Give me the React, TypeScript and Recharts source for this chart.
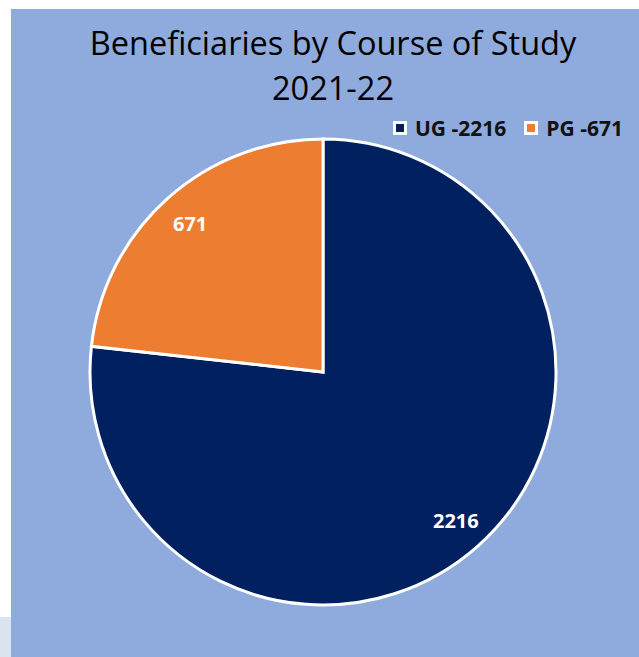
import React from "react";
import { PieChart, Pie, Cell, Legend } from "recharts";

const categories = ["UG", "PG"];
const values = [2216, 671];
const legendLabels = ["UG -2216", "PG -671"];
const colors = ["#002060", "#ED7D31"];
const titleLines = ["Beneficiaries by Course of Study", "2021-22"];

const data = categories.map((c, i) => ({ name: c, value: values[i], label: legendLabels[i] }));

const RAD = Math.PI / 180;

const renderLabel = (props: any) => {
  const { cx, cy, midAngle, outerRadius, value } = props;
  const r = outerRadius * 0.855;
  const x = cx + r * Math.cos(-midAngle * RAD);
  const y = cy + r * Math.sin(-midAngle * RAD);
  return (
    <text
      x={x}
      y={y}
      fill="#ffffff"
      textAnchor="middle"
      dominantBaseline="central"
      fontFamily="'Open Sans', sans-serif"
      fontWeight={700}
      fontSize={20}
    >
      {value}
    </text>
  );
};

const renderLegend = () => (
  <div style={{ display: "flex", fontFamily: "'Open Sans', sans-serif", fontWeight: 700, fontSize: 21, lineHeight: "26px", color: "#111", whiteSpace: "nowrap" }}>
    {data.map((d, i) => (
      <div key={d.name} style={{ display: "flex", alignItems: "center", marginRight: i === 0 ? 18 : 0 }}>
        <div style={{ width: 8, height: 8, background: colors[i], border: "3px solid #fff", marginRight: 8 }} />
        <span>{d.label}</span>
      </div>
    ))}
  </div>
);

export default function App() {
  return (
    <div style={{ position: "absolute", left: 0, top: 0, width: 639, height: 657, background: "#ffffff", overflow: "hidden" }}>
      <div style={{ position: "absolute", left: 0, top: 617, width: 12, height: 40, background: "#dae3f0" }} />
      <div style={{ position: "absolute", left: 11, top: 9, width: 628, height: 648, background: "#8FAADC" }} />
      <div style={{ position: "absolute", left: 11, top: 20, width: 644, textAlign: "center", fontFamily: "'Open Sans', sans-serif", fontSize: 32.5, lineHeight: "45px", color: "#000" }}>
        {titleLines.map((t) => (
          <div key={t}>{t}</div>
        ))}
      </div>
      <div style={{ position: "absolute", left: 0, top: 0 }}>
        <PieChart width={639} height={657} margin={{ top: 0, right: 0, bottom: 0, left: 0 }}>
          <Pie
            data={data}
            dataKey="value"
            nameKey="name"
            cx={323}
            cy={372}
            outerRadius={233}
            startAngle={90}
            endAngle={-270}
            stroke="#ffffff"
            strokeWidth={3}
            label={renderLabel}
            labelLine={false}
            isAnimationActive={false}
          >
            {data.map((d, i) => (
              <Cell key={d.name} fill={colors[i]} />
            ))}
          </Pie>
          <Legend content={renderLegend} wrapperStyle={{ position: "absolute", left: 393, top: 115, width: "auto", bottom: "auto" }} />
        </PieChart>
      </div>
    </div>
  );
}
